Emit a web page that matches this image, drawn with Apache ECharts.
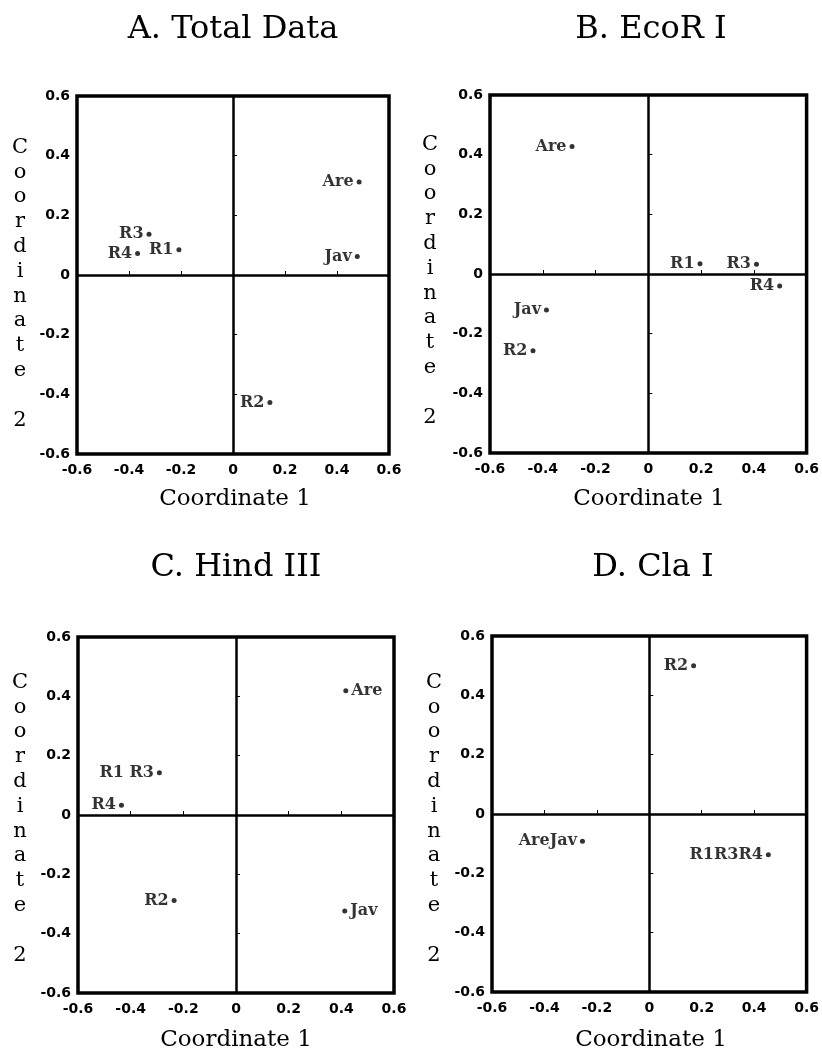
<!DOCTYPE html>
<html>
<head>
<meta charset="utf-8">
<script src="https://cdn.jsdelivr.net/npm/echarts@6/dist/echarts.min.js"></script>
<style>
  html, body { margin: 0; padding: 0; background: #fff; }
  #chart { width: 822px; height: 1052px; }
</style>
</head>
<body>
<div id="chart"></div>
<script>
// ---- Data ----
const panelTitles = ['A. Total Data', 'B. EcoR I', 'C. Hind III', 'D. Cla I'];
const xAxisTitle = 'Coordinate 1';
const yAxisTitle = 'Coordinate 2';
const tickValues = [-0.6, -0.4, -0.2, 0, 0.2, 0.4, 0.6];

const namesA = ['Are', 'Jav', 'R3', 'R4', 'R1', 'R2'];
const xA = [0.485, 0.478, -0.323, -0.367, -0.208, 0.142];
const yA = [0.312, 0.062, 0.137, 0.072, 0.085, -0.427];

const namesB = ['Are', 'R1', 'R3', 'R4', 'Jav', 'R2'];
const xB = [-0.289, 0.196, 0.41, 0.498, -0.386, -0.437];
const yB = [0.427, 0.034, 0.033, -0.04, -0.121, -0.257];

const namesC = ['Are', 'Jav', 'R1 R3', 'R4', 'R2'];
const xC = [0.417, 0.413, -0.291, -0.435, -0.235];
const yC = [0.419, -0.324, 0.142, 0.033, -0.288];

const namesD = ['R2', 'AreJav', 'R1R3R4'];
const xD = [0.169, -0.255, 0.454];
const yD = [0.5, -0.092, -0.137];

// ---- Layout / style ----
const panels = [
  { names: namesA, xs: xA, ys: yA, rightLabels: [] },
  { names: namesB, xs: xB, ys: yB, rightLabels: [] },
  { names: namesC, xs: xC, ys: yC, rightLabels: ['Are', 'Jav'] },
  { names: namesD, xs: xD, ys: yD, rightLabels: [] }
];
const gridBoxes = [
  { left: 77, top: 96, width: 312, height: 358 },
  { left: 490, top: 95, width: 318, height: 358 },
  { left: 78, top: 637, width: 316, height: 356 },
  { left: 492, top: 636, width: 316, height: 356 }
];
const titlePos = [[233, 30], [651, 30], [236, 568], [653, 568]];
const xNamePos = [[235, 499], [649, 499], [236, 1040], [651, 1040]];
const yNamePos = [[20, 135], [430, 132], [20, 670], [434, 670]];

const serif = '"DejaVu Serif", "Liberation Serif", serif';
const tickFmt = v => (Math.abs(v) < 1e-9 ? '0' : (Math.round(v * 10) / 10).toFixed(1));

const grids = [], xAxes = [], yAxes = [], series = [], graphics = [];

panels.forEach((p, i) => {
  const g = gridBoxes[i];
  grids.push({
    left: g.left, top: g.top, width: g.width, height: g.height,
    show: true, borderColor: '#000', borderWidth: 3.5, backgroundColor: 'transparent'
  });
  const axisCommon = {
    gridIndex: i, type: 'value',
    min: tickValues[0], max: tickValues[tickValues.length - 1], interval: 0.2,
    axisLine: { show: false },
    axisTick: { show: true, inside: true, length: 4, lineStyle: { color: '#000', width: 1 } },
    splitLine: { show: false },
    axisLabel: {
      color: '#000', fontFamily: '"DejaVu Sans", sans-serif', fontWeight: 'bold',
      fontSize: 14, formatter: tickFmt
    }
  };
  xAxes.push(Object.assign({}, axisCommon, {
    position: 'bottom',
    axisLabel: Object.assign({}, axisCommon.axisLabel, { margin: 9 })
  }));
  yAxes.push(Object.assign({}, axisCommon, {
    position: 'left',
    axisLabel: Object.assign({}, axisCommon.axisLabel, { margin: 7 })
  }));

  series.push({
    type: 'scatter',
    xAxisIndex: i, yAxisIndex: i,
    symbol: 'circle', symbolSize: 5,
    itemStyle: { color: '#000' },
    label: {
      show: true, formatter: '{b}', position: 'left', distance: 3,
      color: '#000', fontFamily: serif, fontSize: 16, fontWeight: 'bold'
    },
    data: p.names.map((n, k) => ({
      name: n,
      value: [p.xs[k], p.ys[k]],
      label: { position: p.rightLabels.indexOf(n) >= 0 ? 'right' : 'left' }
    })),
    markLine: {
      silent: true, symbol: 'none',
      label: { show: false },
      lineStyle: { color: '#000', width: 2.5, type: 'solid' },
      data: [{ xAxis: 0 }, { yAxis: 0 }]
    },
    z: 5
  });

  graphics.push({
    type: 'text', x: titlePos[i][0], y: titlePos[i][1],
    style: { text: panelTitles[i], font: '32px ' + serif, fill: '#000',
             textAlign: 'center', textVerticalAlign: 'middle' }
  });
  graphics.push({
    type: 'text', x: xNamePos[i][0], y: xNamePos[i][1],
    style: { text: xAxisTitle, font: '23px ' + serif, fill: '#000',
             textAlign: 'center', textVerticalAlign: 'middle' }
  });
  graphics.push({
    type: 'text', x: yNamePos[i][0], y: yNamePos[i][1],
    style: { text: yAxisTitle.split('').join('\n'), font: '21px ' + serif, fill: '#000',
             textAlign: 'center', textVerticalAlign: 'top', lineHeight: 24.8 }
  });
});

const chart = echarts.init(document.getElementById('chart'), null, { renderer: 'canvas' });
chart.setOption({
  animation: false,
  backgroundColor: '#fff',
  grid: grids,
  xAxis: xAxes,
  yAxis: yAxes,
  series: series,
  graphic: graphics
});
</script>
</body>
</html>
